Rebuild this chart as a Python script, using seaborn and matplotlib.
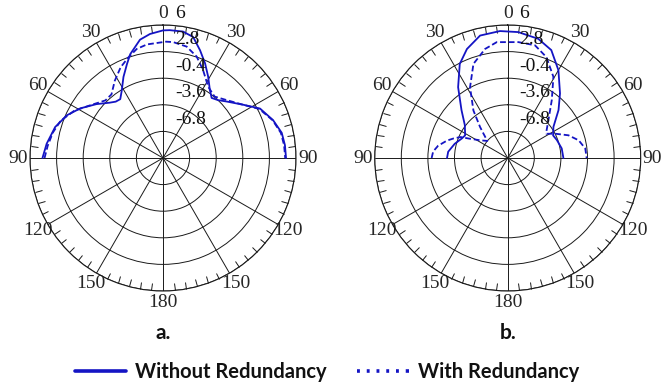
import numpy as np
import pandas as pd
import matplotlib
matplotlib.use("Agg")
import matplotlib.pyplot as plt
from matplotlib.lines import Line2D
import seaborn as sns

# Radiation pattern samples: angle (deg, clockwise from boresight) and gain
a_solid_deg = [-90, -83, -74, -66, -59, -51, -44, -40, -36, -31.5, -26, -21, -17.5,
               -11, -6, 0, 3, 9, 14, 19, 24, 29, 34.5, 39, 43.5, 48.5, 56.5, 63,
               71, 78, 84, 90]
a_solid_gain = [4.5, 4.1, 3.5, 2.65, 1.6, 0.3, -0.75, -1.15, -1.25, -0.5, 0.85, 2.1,
                3.1, 4.5, 5.0, 5.35, 5.4, 5.4, 5.0, 3.7, 2.45, 1.2, -0.05, -0.7,
                -0.4, 0.25, 1.6, 3.1, 4.0, 4.6, 4.75, 4.8]

a_dash_deg = [-90, -84, -77, -70, -62, -54, -45, -39, -32, -25, -19, -13.5, -8,
              1.5, 5, 12, 18.4, 24.6, 32.4, 40, 47.7, 56, 63, 71, 78, 84, 90]
a_dash_gain = [4.25, 3.95, 3.6, 3.1, 2.1, 0.8, -0.2, -0.15, 0.95, 2.05, 2.8, 3.5,
               3.8, 4.0, 4.0, 3.7, 2.85, 1.6, 0.15, -0.35, 0.35, 1.5, 3.0, 3.95,
               4.5, 4.65, 4.7]

b_solid_deg = [-90, -84, -75, -67, -62, -52.5, -44, -35, -27, -20.5, -12.7, -3.5,
               4.8, 14.4, 22, 30, 39, 46.7, 55.8, 63.6, 70, 80, 90]
b_solid_gain = [-2.7, -2.8, -3.4, -4.0, -4.2, -3.5, -2.0, 0.4, 2.7, 4.0, 5.1, 5.3,
                5.2, 4.8, 4.0, 2.2, 0.0, -1.6, -3.35, -3.9, -3.7, -3.4, -3.3]

b_dash_deg = [-90, -85, -80, -74, -70, -66, -63, -57, -50, -45, -41.7, -35.8, -28,
              -20, -11.7, -5.4, 5.3, 13.6, 21, 29.4, 37.3, 47, 54.6, 58, 62.8,
              69.5, 76, 83, 90]
b_dash_gain = [-0.85, -1.0, -1.5, -2.4, -3.1, -3.8, -4.9, -6.1, -6.8, -5.9, -5.0,
               -2.95, -0.35, 2.05, 3.4, 4.0, 4.0, 3.95, 3.0, 1.2, -1.25, -3.3,
               -4.26, -4.5, -3.6, -2.2, -1.2, -0.6, -0.5]

ring_values = [-6.8, -3.6, -0.4, 2.8, 6]
ring_labels = ["-6.8", "-3.6", "-0.4", "2.8", "6"]
angle_labels = ["0", "30", "60", "90", "120", "150", "180", "150", "120", "90", "60", "30"]
series_names = ["Without Redundancy", "With Redundancy"]
panel_names = ["a.", "b."]

BLUE = "#1414C4"
GRID = "#1a1a1a"

sns.set_style("white")
plt.rcParams["font.family"] = ["Liberation Serif", "DejaVu Serif"]

fig = plt.figure(figsize=(6.64, 3.82), dpi=100)
W, H = 664, 382
R = 133
centers = [(163, 158), (507.7, 158)]

panels = [
    ((a_solid_deg, a_solid_gain), (a_dash_deg, a_dash_gain)),
    ((b_solid_deg, b_solid_gain), (b_dash_deg, b_dash_gain)),
]

for (cx, cy), (solid, dashed), pname in zip(centers, panels, panel_names):
    ax = fig.add_axes([(cx - R) / W, 1 - (cy + R) / H, 2 * R / W, 2 * R / H],
                      projection="polar")
    ax.set_theta_zero_location("N")
    ax.set_theta_direction(-1)

    for (deg, gain), style in zip((solid, dashed), ("-", "--")):
        df = pd.DataFrame({"theta": np.deg2rad(deg), "gain": gain})
        sns.lineplot(data=df, x="theta", y="gain", ax=ax, sort=False,
                     color=BLUE, lw=1.3, linestyle=style)
        if style == "--":
            ax.lines[-1].set_dashes((3.2, 1.6))
    ax.set_xlabel("")
    ax.set_ylabel("")

    ax.set_ylim(-10, 6)
    ax.set_yticks(ring_values)
    ax.set_yticklabels([])
    ax.set_xticks(np.deg2rad(np.arange(0, 360, 30)))
    ax.set_xticklabels(angle_labels, fontsize=14)
    minor = [a for a in range(0, 360, 5) if a % 30]
    ax.set_xticks(np.deg2rad(minor), minor=True)
    ax.tick_params(axis="x", which="major", length=0, pad=1.5)
    # theta ticks on the outer circle, pointing inward
    ax.tick_params(axis="x", which="minor", bottom=False, top=True,
                   direction="in", length=5, width=0.7, color=GRID)
    ax.grid(True, color=GRID, lw=0.7)
    ax.spines["polar"].set_color(GRID)
    ax.spines["polar"].set_linewidth(0.8)

    for v, lab in zip(ring_values, ring_labels):
        ax.annotate(lab, xy=(0, v), xytext=(8.5, 8.5), textcoords="offset points",
                    ha="left", va="center", fontsize=14, color="#111")

    fig.text(cx / W, 1 - 333 / H, pname, ha="center", va="center",
             fontsize=15, fontweight="bold", family=["Lato", "DejaVu Sans"],
             color="#111")

handles = [Line2D([], [], color=BLUE, lw=2.6, linestyle="-"),
           Line2D([], [], color=BLUE, lw=2.6,
                  dashes=(0.8, 1.9, 0.8, 1.9, 0.8, 1.9, 0.8, 1.9, 0.8, 1.9, 2.0, 0))]
fig.legend(handles, series_names, loc="center", ncol=2,
           bbox_to_anchor=(327 / W, 1 - 372 / H), frameon=False,
           prop={"family": ["Lato", "DejaVu Sans"], "weight": "bold", "size": 14.5},
           handlelength=2.55, handletextpad=0.45, columnspacing=1.5,
           labelcolor="#111")

fig.savefig("out.png", dpi=100)
